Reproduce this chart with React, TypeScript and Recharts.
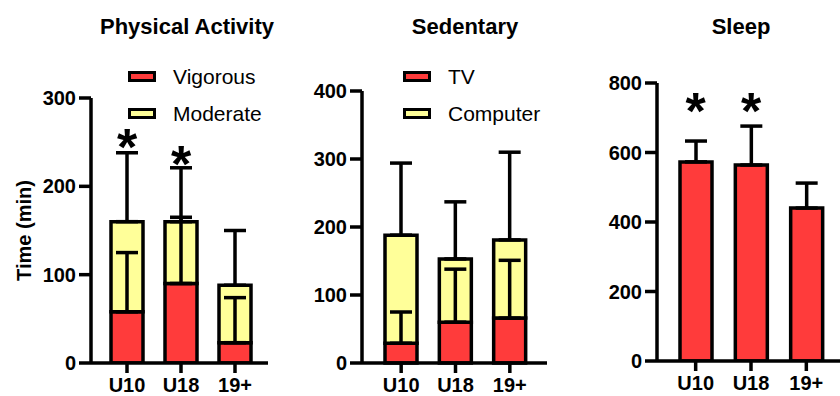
import React from "react";
import { Bar, ComposedChart, ErrorBar, Legend, Line, XAxis, YAxis } from "recharts";

const groups = ["U10", "U18", "19+"];

// Physical activity (min)
const vigorous = [58, 90, 23];
const vigorousSD = [67, 75, 51];
const moderate = [102, 70, 65];
const moderateSD = [78, 61, 62];
const activityStars = [255, 235, null];

// Sedentary (min)
const tv = [29, 60, 66];
const tvSD = [46, 78, 85];
const computer = [159, 93, 115];
const computerSD = [106, 84, 129];

// Sleep (min)
const sleep = [573, 564, 440];
const sleepSD = [60, 112, 72];
const sleepStars = [745, 745, null];

const activityTicks = [0, 100, 200, 300];
const sedentaryTicks = [0, 100, 200, 300, 400];
const sleepTicks = [0, 200, 400, 600, 800];

const RED = "#FF3B3B";
const YELLOW = "#FFFF99";
const FONT = "'Liberation Sans', Arial, sans-serif";
const SW = 3.5;

const activityData = groups.map((g, i) => ({
  group: g,
  vigorous: vigorous[i],
  vigorousErr: [0, vigorousSD[i]],
  moderate: moderate[i],
  moderateErr: [0, moderateSD[i]],
  star: activityStars[i],
}));

const sedentaryData = groups.map((g, i) => ({
  group: g,
  tv: tv[i],
  tvErr: [0, tvSD[i]],
  computer: computer[i],
  computerErr: [0, computerSD[i]],
}));

const sleepData = groups.map((g, i) => ({
  group: g,
  sleep: sleep[i],
  sleepErr: [0, sleepSD[i]],
  star: sleepStars[i],
}));

const tickStyle = { fill: "#000", fontSize: 20, fontWeight: 700, fontFamily: FONT };

function Star(props: any) {
  const { cx, cy, index } = props;
  if (cy == null || isNaN(cy)) return <g key={"s" + index} />;
  return (
    <text key={"s" + index} x={cx} y={cy + 27} textAnchor="middle" fontSize={52} fontWeight={700} fontFamily={FONT} fill="#000">
      *
    </text>
  );
}

function makeLegend(items: Array<{ label: string; color: string }>) {
  return () => (
    <div style={{ fontFamily: FONT, fontSize: 21, color: "#000" }}>
      {items.map((it) => (
        <div key={it.label} style={{ display: "flex", alignItems: "center", height: 37 }}>
          <span style={{ width: 22, height: 5, background: it.color, border: "3px solid #000", marginRight: 17 }} />
          <span>{it.label}</span>
        </div>
      ))}
    </div>
  );
}

function Title({ text, cx }: { text: string; cx: number }) {
  return (
    <div
      style={{
        position: "absolute",
        left: cx - 100,
        width: 200,
        top: 14,
        textAlign: "center",
        fontFamily: FONT,
        fontWeight: 700,
        fontSize: 22,
        color: "#000",
      }}
    >
      {text}
    </div>
  );
}

const axisLine = { stroke: "#000", strokeWidth: SW };

export default function App() {
  return (
    <div style={{ position: "absolute", left: 0, top: 0, width: 840, height: 396, background: "#fff", overflow: "hidden" }}>
      <Title text="Physical Activity" cx={187} />
      <Title text="Sedentary" cx={465} />
      <Title text="Sleep" cx={741} />

      <div style={{ position: "absolute", left: 0, top: 0 }}>
        <ComposedChart width={290} height={396} data={activityData} margin={{ top: 98, right: 22, bottom: 3, left: 0 }}>
          <XAxis dataKey="group" height={30} padding={{ left: 9, right: 6 }} tick={tickStyle} tickSize={10} tickMargin={5} axisLine={axisLine} tickLine={axisLine} />
          <YAxis
            width={91}
            domain={[0, 300]}
            ticks={activityTicks}
            tick={tickStyle}
            tickSize={12}
            tickMargin={3}
            axisLine={axisLine}
            tickLine={axisLine}
            allowDataOverflow
            label={{ value: "Time (min)", angle: -90, position: "insideLeft", offset: 24, style: { ...tickStyle, textAnchor: "middle" } }}
          />
          <Legend
            layout="vertical"
            align="center"
            verticalAlign="middle"
            content={makeLegend([
              { label: "Vigorous", color: RED },
              { label: "Moderate", color: YELLOW },
            ])}
            wrapperStyle={{ position: "absolute", left: 128, top: 58, width: 160 }}
          />
          <Bar dataKey="vigorous" stackId="a" fill={RED} stroke="#000" strokeWidth={SW} barSize={32} isAnimationActive={false}>
            <ErrorBar dataKey="vigorousErr" width={11} stroke="#000" strokeWidth={SW} />
          </Bar>
          <Bar dataKey="moderate" stackId="a" fill={YELLOW} stroke="#000" strokeWidth={SW} barSize={32} isAnimationActive={false}>
            <ErrorBar dataKey="moderateErr" width={11} stroke="#000" strokeWidth={SW} />
          </Bar>
          <Line dataKey="star" stroke="none" dot={Star} activeDot={false} legendType="none" isAnimationActive={false} />
        </ComposedChart>
      </div>

      <div style={{ position: "absolute", left: 290, top: 0 }}>
        <ComposedChart width={270} height={396} data={sedentaryData} margin={{ top: 91, right: 13, bottom: 3, left: 0 }}>
          <XAxis dataKey="group" height={30} padding={{ left: 12, right: 10 }} tick={tickStyle} tickSize={10} tickMargin={5} axisLine={axisLine} tickLine={axisLine} />
          <YAxis width={72} domain={[0, 400]} ticks={sedentaryTicks} tick={tickStyle} tickSize={12} tickMargin={3} axisLine={axisLine} tickLine={axisLine} />
          <Legend
            layout="vertical"
            align="center"
            verticalAlign="middle"
            content={makeLegend([
              { label: "TV", color: RED },
              { label: "Computer", color: YELLOW },
            ])}
            wrapperStyle={{ position: "absolute", left: 113, top: 58, width: 157 }}
          />
          <Bar dataKey="tv" stackId="a" fill={RED} stroke="#000" strokeWidth={SW} barSize={32} isAnimationActive={false}>
            <ErrorBar dataKey="tvErr" width={11} stroke="#000" strokeWidth={SW} />
          </Bar>
          <Bar dataKey="computer" stackId="a" fill={YELLOW} stroke="#000" strokeWidth={SW} barSize={32} isAnimationActive={false}>
            <ErrorBar dataKey="computerErr" width={11} stroke="#000" strokeWidth={SW} />
          </Bar>
        </ComposedChart>
      </div>

      <div style={{ position: "absolute", left: 570, top: 0 }}>
        <ComposedChart width={270} height={396} data={sleepData} margin={{ top: 83, right: 0, bottom: 5, left: 0 }}>
          <XAxis dataKey="group" height={30} padding={{ left: 11, right: 6 }} tick={tickStyle} tickSize={10} tickMargin={5} axisLine={axisLine} tickLine={axisLine} />
          <YAxis width={87} domain={[0, 800]} ticks={sleepTicks} tick={tickStyle} tickSize={12} tickMargin={3} axisLine={axisLine} tickLine={axisLine} allowDataOverflow />
          <Bar dataKey="sleep" fill={RED} stroke="#000" strokeWidth={SW} barSize={32} isAnimationActive={false}>
            <ErrorBar dataKey="sleepErr" width={11} stroke="#000" strokeWidth={SW} />
          </Bar>
          <Line dataKey="star" stroke="none" dot={Star} activeDot={false} legendType="none" isAnimationActive={false} />
        </ComposedChart>
      </div>
    </div>
  );
}
